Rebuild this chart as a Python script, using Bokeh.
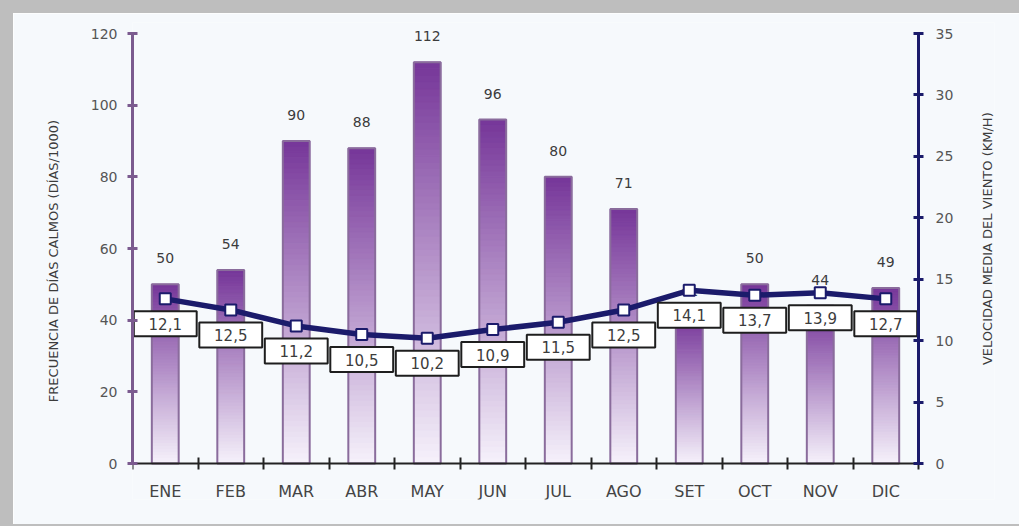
import numpy as np
from bokeh.plotting import figure
from bokeh.models import Range1d, LinearAxis, FixedTicker, ColumnDataSource, Label
from bokeh.core.properties import value
from bokeh.embed import file_html
from bokeh.resources import INLINE

# ---- data ----
meses = ["ENE", "FEB", "MAR", "ABR", "MAY", "JUN", "JUL", "AGO", "SET", "OCT", "NOV", "DIC"]
dias_calmos = [50, 54, 90, 88, 112, 96, 80, 71, 41, 50, 44, 49]
viento = [13.4, 12.5, 11.2, 10.5, 10.2, 10.9, 11.5, 12.5, 14.1, 13.7, 13.9, 13.4]
viento_etiquetas = ["12,1", "12,5", "11,2", "10,5", "10,2", "10,9", "11,5", "12,5",
                    "14,1", "13,7", "13,9", "12,7"]
y_ticks = [0, 20, 40, 60, 80, 100, 120]
y2_ticks = [0, 5, 10, 15, 20, 25, 30, 35]
Y_MAX, Y2_MAX = 120, 35

# ---- styling ----
BG = "#f6f9fc"
GREY = "#bebebe"
PURPLE_AX = "#7b5b8f"
NAVY = "#1b1b6b"
TXT = "#3c3c3c"
FONT = "DejaVu Sans"

W, H = 1019, 526
BAND = 13                      # grey page band (top / left)
axis_left, axis_right = 132, 918
axis_top, axis_bottom = 33, 463
frame_top, frame_bottom = 22, 499   # frame runs a little beyond the axes
cat_px = (axis_right - axis_left) / len(meses)
frame_h = frame_bottom - frame_top
ML, MT = axis_left - BAND, frame_top - BAND
MR = 38                        # only the right axis' panel; the frame runs past the axis
MB = H - MT - frame_h
frame_w = W - ML - MR
x_max = frame_w / cat_px
px1 = (axis_bottom - axis_top) / Y_MAX
px2 = (axis_bottom - axis_top) / Y2_MAX
y_rng = (-(frame_bottom - axis_bottom) / px1, Y_MAX + (axis_top - frame_top) / px1)
y2_rng = (-(frame_bottom - axis_bottom) / px2, Y2_MAX + (axis_top - frame_top) / px2)

p = figure(width=W, height=H, output_backend="svg", toolbar_location=None,
           x_range=Range1d(0, x_max), y_range=Range1d(*y_rng),
           min_border_left=ML, min_border_right=MR, min_border_top=MT, min_border_bottom=MB)
p.styles = {"border-top": f"{BAND}px solid {GREY}", "border-left": f"{BAND}px solid {GREY}",
            "border-bottom": f"2px solid {GREY}"}
p.extra_y_ranges = {"viento": Range1d(*y2_rng)}
p.background_fill_color = BG
p.border_fill_color = BG
p.outline_line_color = None
p.xgrid.visible = False
p.ygrid.visible = False

xc = np.arange(len(meses)) + 0.5

# ---- gradient bars (vertical gradient from pale bottom to purple top) ----
dark = np.array([0x76, 0x36, 0x99], dtype=float)
light = np.array([0xf6, 0xf2, 0xfb], dtype=float)
N = 60
bx, bb, bt, bc = [], [], [], []
for x, v in zip(xc, dias_calmos):
    for k in range(N):
        t = (k + 0.5) / N
        c = light + (dark - light) * t
        bx.append(x)
        bb.append(v * k / N)
        bt.append(v * (k + 1) / N)
        bc.append("#%02x%02x%02x" % tuple(int(round(ch)) for ch in c))
src_bars = ColumnDataSource(dict(x=bx, bottom=bb, top=bt, color=bc))
BAR_W = 0.41
p.vbar(x="x", bottom="bottom", top="top", width=BAR_W, fill_color="color",
       line_color="color", line_width=1, source=src_bars)
p.vbar(x=xc, top=dias_calmos, width=BAR_W, fill_color=None,
       line_color="#8a6c9c", line_width=2)

# bar value labels
p.text(x=xc, y=dias_calmos, text=[str(v) for v in dias_calmos], text_align="center",
       text_baseline="middle", y_offset=-26, text_font_size="14px",
       text_color=TXT, text_font=value(FONT))

# ---- wind line ----
p.line(xc, viento, y_range_name="viento", line_color=NAVY, line_width=5.5, line_join="round")
p.scatter(xc, viento, y_range_name="viento", marker="square", size=11,
          fill_color="white", line_color=NAVY, line_width=2)

# wind value boxes (placed 25px below each point)
ybox = [v - 25 / px2 for v in viento]
p.rect(x=xc, y=ybox, width=0.96, height=25, height_units="screen",
       y_range_name="viento", fill_color="white", line_color="#1e1e1e", line_width=2)
p.text(x=xc, y=ybox, text=viento_etiquetas, y_range_name="viento", text_align="center",
       text_baseline="middle", text_font_size="15px", text_color=TXT, text_font=value(FONT))

# ---- axes ----
ya = p.yaxis[0]
ya.bounds = (0, Y_MAX)
ya.ticker = FixedTicker(ticks=y_ticks)
ya.axis_line_color = PURPLE_AX
ya.axis_line_width = 3
ya.major_tick_line_color = PURPLE_AX
ya.major_tick_line_width = 3
ya.major_tick_in = 5
ya.major_tick_out = 5
ya.minor_tick_line_color = None
ya.major_label_text_font_size = "14px"
ya.major_label_text_color = "#555555"
ya.major_label_text_font = FONT
ya.major_label_standoff = 10
ya.axis_label = "FRECUENCIA DE DÍAS CALMOS (DÍAS/1000)"
ya.axis_label_text_font_size = "13px"
ya.axis_label_text_font_style = "normal"
ya.axis_label_text_color = TXT
ya.axis_label_text_font = FONT
ya.axis_label_standoff = 27

ra = LinearAxis(y_range_name="viento", ticker=FixedTicker(ticks=y2_ticks), bounds=(0, Y2_MAX))
ra.fixed_location = len(meses)
ra.axis_line_color = NAVY
ra.axis_line_width = 3
ra.major_tick_line_color = NAVY
ra.major_tick_line_width = 3
ra.major_tick_in = 5
ra.major_tick_out = 5
ra.minor_tick_line_color = None
ra.major_label_text_font_size = "14px"
ra.major_label_text_color = "#555555"
ra.major_label_text_font = FONT
ra.major_label_standoff = 12
p.add_layout(ra, "right")

# right-hand axis title, reading bottom-to-top, 69px right of the right axis
p.add_layout(Label(x=len(meses) + 69 / cat_px, y=18.3, y_range_name="viento",
                   text="VELOCIDAD MEDIA DEL VIENTO (KM/H)", angle=np.pi / 2,
                   text_align="center", text_baseline="middle", text_font_size="13px",
                   text_color=TXT, text_font=FONT))

xa = p.xaxis[0]
xa.fixed_location = 0
xa.bounds = (0, len(meses))
xa.ticker = FixedTicker(ticks=list(xc), minor_ticks=list(range(len(meses) + 1)))
xa.major_label_overrides = {float(x): m for x, m in zip(xc, meses)}
xa.axis_line_color = "#222222"
xa.axis_line_width = 2
xa.major_tick_line_color = None
xa.major_tick_in = 0
xa.major_tick_out = 0
xa.minor_tick_line_color = "#222222"
xa.minor_tick_line_width = 2
xa.minor_tick_in = 6
xa.minor_tick_out = 6
xa.major_label_text_font_size = "16px"
xa.major_label_text_color = "#444444"
xa.major_label_text_font = FONT
xa.major_label_standoff = 12

open("out.html", "w").write(file_html(p, INLINE))
